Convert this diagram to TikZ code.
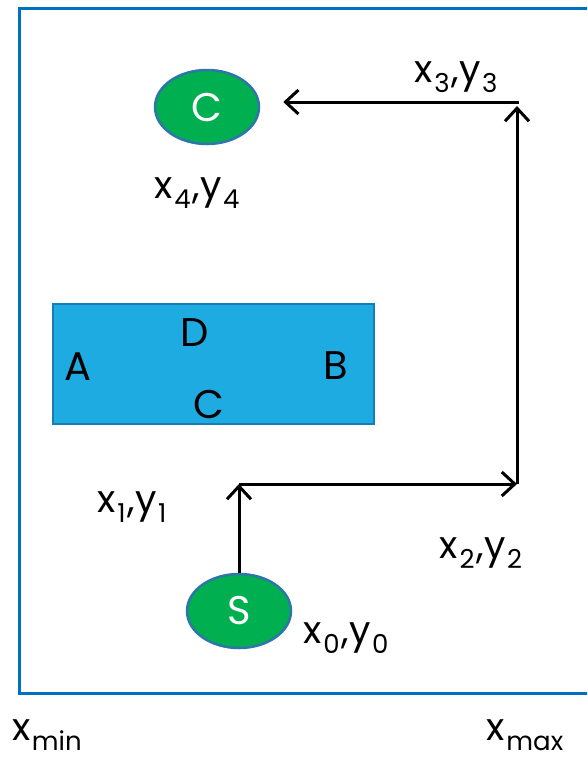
\documentclass[tikz,border=0pt]{standalone}
\usepackage{fontspec}
\setmainfont{Poppins}
\usetikzlibrary{arrows.meta, shapes.geometric}

\definecolor{framebl}{RGB}{0,112,192}
\definecolor{ppgreen}{RGB}{0,176,80}
\definecolor{edgebl}{RGB}{46,117,170}
\definecolor{obstfill}{RGB}{29,171,226}
\definecolor{obstedge}{RGB}{24,125,180}

\newcommand\subidx[1]{\kern1.5pt\raisebox{-10pt}{\fontsize{26}{26}\selectfont #1}\kern2pt}

\begin{document}
\begin{tikzpicture}[
  x=1pt, y=-1pt,
  font=\fontsize{38}{40}\selectfont,
  goal/.style={ellipse, draw=edgebl, line width=2.5pt, fill=ppgreen, text=white,
    minimum width=104pt, minimum height=74pt, inner sep=0pt, font=\fontsize{40}{40}\selectfont},
  obst/.style={draw=obstedge, line width=2pt, fill=obstfill,
    minimum width=321pt, minimum height=120pt, inner sep=0pt},
  move/.style={-{Straight Barb[length=13pt, width=24pt]}, line width=3pt},
  lbl/.style={anchor=base, inner sep=0pt},
  side/.style={anchor=base, inner sep=0pt, font=\fontsize{40}{40}\selectfont}
]
\clip (0,0) rectangle (587,758);

% --- Quadro ---
\draw[framebl, line width=3pt] (19,8) rectangle (620,693);

% --- Obstaculo ---
\node[obst] (obs) at (213.5,364) {};
\node[side] (sA) at (78,380) {A};
\node[side] (sD) at (195,346) {D};
\node[side] (sB) at (336,379) {B};
\node[side] (sC) at (209,418) {C};

% --- Inicio e alvo ---
\node[goal] (start) at (239,611) {S};
\node[goal] (goal) at (207,107) {C};

% --- Pontos do caminho ---
\coordinate (p1) at (239,484);
\coordinate (p2) at (517,484);
\coordinate (p3) at (517,102);

% --- Caminho ---
\draw[move] (start.north) -- (p1);
\draw[move] (p1) -- (p2);
\draw[move, shorten >=4pt] (p2) -- (p3);
\draw[move, shorten <=-1.5pt, shorten >=23pt] (p3) -- (p3 -| goal.east);

% --- Rotulos ---
\node[lbl] (l0) at (347,643) {x\subidx{0},y\subidx{0}};
\node[lbl] (l1) at (133,512) {x\subidx{1},y\subidx{1}};
\node[lbl] (l2) at (482,558) {x\subidx{2},y\subidx{2}};
\node[lbl] (l3) at (457,82) {x\subidx{3},y\subidx{3}};
\node[lbl] (l4) at (198,198) {x\subidx{4},y\subidx{4}};
\node[lbl] (lmin) at (48,740) {x\subidx{min}};
\node[lbl] (lmax) at (526,740) {x\subidx{max}};

\end{tikzpicture}
\end{document}
